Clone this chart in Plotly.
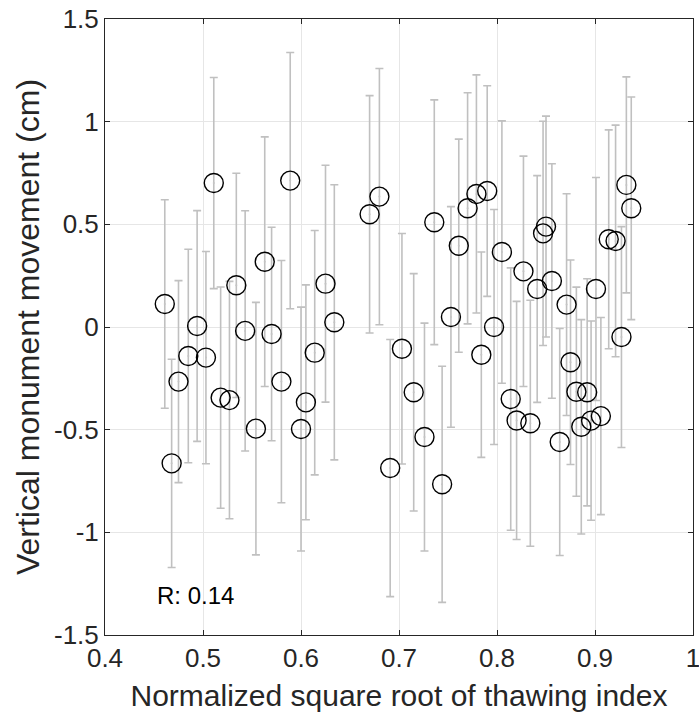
import plotly.graph_objects as go

x_vals = [0.461, 0.468, 0.475, 0.485, 0.494, 0.503, 0.511, 0.518, 0.527, 0.534,
          0.543, 0.554, 0.563, 0.570, 0.580, 0.589, 0.600, 0.605, 0.614, 0.625,
          0.634, 0.670, 0.680, 0.691, 0.703, 0.715, 0.726, 0.736, 0.744, 0.753,
          0.761, 0.770, 0.779, 0.784, 0.790, 0.797, 0.805, 0.814, 0.820, 0.827,
          0.834, 0.841, 0.847, 0.850, 0.856, 0.864, 0.871, 0.875, 0.881, 0.886,
          0.892, 0.896, 0.901, 0.906, 0.914, 0.921, 0.927, 0.932, 0.937]
y_vals = [0.112, -0.664, -0.266, -0.141, 0.005, -0.149, 0.701, -0.344, -0.356, 0.203,
          -0.019, -0.495, 0.318, -0.034, -0.266, 0.713, -0.497, -0.367, -0.125, 0.211,
          0.023, 0.549, 0.635, -0.687, -0.106, -0.318, -0.536, 0.510, -0.766, 0.049,
          0.396, 0.578, 0.648, -0.135, 0.662, 0.000, 0.365, -0.351, -0.455, 0.271,
          -0.469, 0.185, 0.456, 0.489, 0.224, -0.560, 0.109, -0.172, -0.315, -0.486,
          -0.318, -0.456, 0.185, -0.434, 0.427, 0.419, -0.049, 0.692, 0.578]
err_vals = [0.508, 0.507, 0.492, 0.520, 0.562, 0.517, 0.514, 0.539, 0.578, 0.546,
            0.585, 0.615, 0.608, 0.520, 0.590, 0.624, 0.594, 0.572, 0.595, 0.577,
            0.670, 0.578, 0.624, 0.626, 0.561, 0.578, 0.555, 0.596, 0.575, 0.537,
            0.519, 0.563, 0.580, 0.500, 0.513, 0.572, 0.639, 0.639, 0.580, 0.561,
            0.599, 0.552, 0.546, 0.538, 0.571, 0.553, 0.540, 0.498, 0.509, 0.522,
            0.553, 0.485, 0.543, 0.480, 0.533, 0.564, 0.538, 0.526, 0.542]

x_ticks = [0.4, 0.5, 0.6, 0.7, 0.8, 0.9, 1.0]
x_tick_text = ["0.4", "0.5", "0.6", "0.7", "0.8", "0.9", "1"]
y_ticks = [-1.5, -1.0, -0.5, 0.0, 0.5, 1.0, 1.5]
y_tick_text = ["-1.5", "-1", "-0.5", "0", "0.5", "1", "1.5"]
r_label = "R: 0.14"

FONT = "Liberation Sans, Arial, Helvetica, sans-serif"

fig = go.Figure()
# error bars
fig.add_trace(go.Scatter(
    x=x_vals, y=y_vals, mode="markers",
    marker=dict(size=2, color="#c4c4c4"),
    error_y=dict(type="data", array=err_vals, symmetric=True,
                 color="#c0c0c0", thickness=1.6, width=4),
    showlegend=False, hoverinfo="skip"))
# circles
fig.add_trace(go.Scatter(
    x=x_vals, y=y_vals, mode="markers",
    marker=dict(symbol="circle-open", size=19, color="black",
                line=dict(color="black", width=1.4)),
    showlegend=False))

fig.add_annotation(x=0.4515, y=-1.307, xref="x", yref="y", text=r_label,
                   showarrow=False, xanchor="left", yanchor="middle",
                   font=dict(family=FONT, size=24, color="black"))

axis_common = dict(showgrid=True, gridcolor="#e6e6e6", gridwidth=1,
                   zeroline=False, showline=True, linecolor="#262626", linewidth=1,
                   mirror="ticks", ticks="inside", ticklen=5, tickcolor="#262626",
                   automargin=False,
                   tickfont=dict(family=FONT, size=26, color="#262626"))

fig.update_xaxes(range=[0.4, 1.0], tickvals=x_ticks, ticktext=x_tick_text,
                 ticklabeloverflow="allow",
                 title=dict(text="Normalized square root of thawing index",
                            font=dict(family=FONT, size=30, color="#262626"), standoff=12),
                 **axis_common)
fig.update_yaxes(range=[-1.5, 1.5], tickvals=y_ticks, ticktext=y_tick_text,
                 title=dict(text="Vertical monument movement (cm)",
                            font=dict(family=FONT, size=32, color="#262626"), standoff=4),
                 **axis_common)

fig.update_layout(width=699, height=720,
                  margin=dict(l=105, r=6, t=19, b=85),
                  plot_bgcolor="white", paper_bgcolor="white",
                  font=dict(family=FONT))

fig.write_html("out.html")
